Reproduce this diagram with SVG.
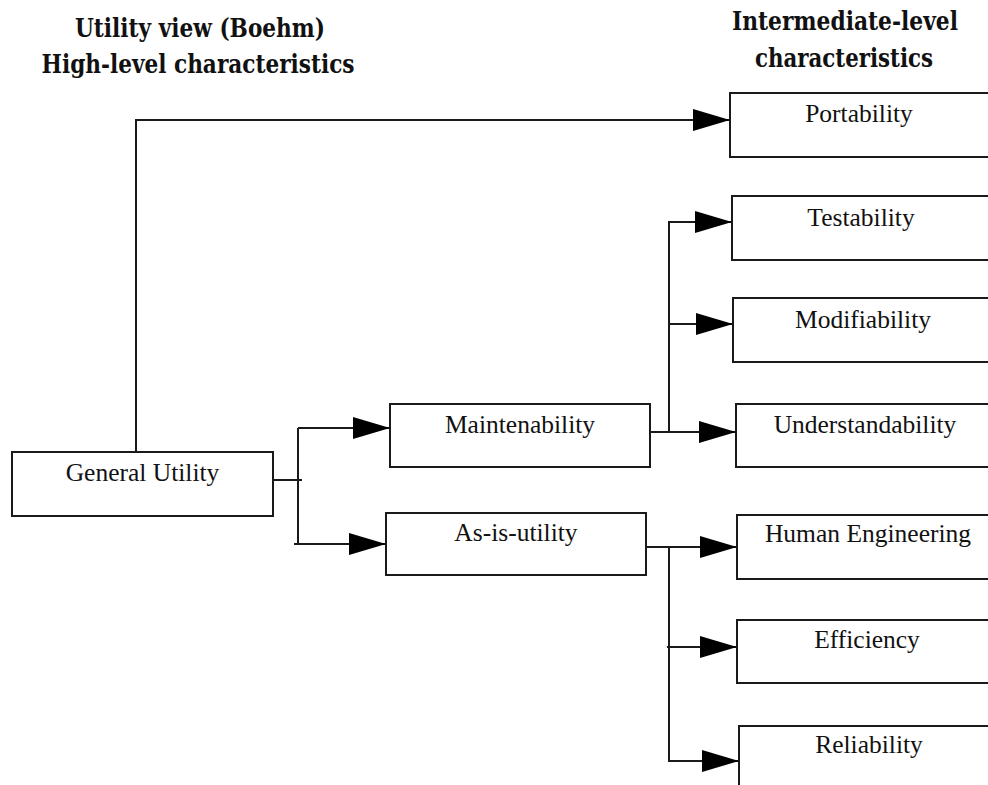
<svg xmlns="http://www.w3.org/2000/svg" width="988" height="785" viewBox="0 0 988 785">
<style>
.box{fill:#fff;stroke:#1a1a1a;stroke-width:2}
.lbl{font-family:"Liberation Serif","Times New Roman",serif;font-size:25.5px;fill:#111;text-anchor:middle}
.ttl{font-family:"DejaVu Serif","Liberation Serif",serif;font-size:26px;font-weight:bold;fill:#111;text-anchor:middle}
.ln{fill:none;stroke:#1a1a1a;stroke-width:2}
</style>
<defs>
<marker id="arr" markerUnits="userSpaceOnUse" markerWidth="38" markerHeight="24" refX="37" refY="12" orient="auto">
<path d="M0,1 L37,12 L0,23 z" fill="#000"/>
</marker>
</defs>
<rect width="988" height="785" fill="#fff"/>
<g id="titles">
<text class="ttl" x="200" y="37" textLength="250" lengthAdjust="spacingAndGlyphs">Utility view (Boehm)</text>
<text class="ttl" x="198" y="73" textLength="313" lengthAdjust="spacingAndGlyphs">High-level characteristics</text>
<text class="ttl" x="845" y="30" textLength="226" lengthAdjust="spacingAndGlyphs">Intermediate-level</text>
<text class="ttl" x="844" y="67" textLength="178" lengthAdjust="spacingAndGlyphs">characteristics</text>
</g>
<g id="connectors">
<polyline class="ln" points="136,452 136,120 730,120" marker-end="url(#arr)"/>
<polyline class="ln" points="273,480 302,480"/>
<polyline class="ln" points="298,428 298,544"/>
<polyline class="ln" points="298,428 390,428" marker-end="url(#arr)"/>
<polyline class="ln" points="294,544 386,544" marker-end="url(#arr)"/>
<polyline class="ln" points="651,432 736,432" marker-end="url(#arr)"/>
<polyline class="ln" points="669,432 669,222 732,222" marker-end="url(#arr)"/>
<polyline class="ln" points="669,324 733,324" marker-end="url(#arr)"/>
<polyline class="ln" points="646,547 737,547" marker-end="url(#arr)"/>
<polyline class="ln" points="669,547 669,761 739,761" marker-end="url(#arr)"/>
<polyline class="ln" points="667,647 737,647" marker-end="url(#arr)"/>
</g>
<g id="general-utility">
<rect class="box" x="12" y="452" width="261" height="64"/>
<text class="lbl" x="142.5" y="481">General Utility</text>
</g>
<g id="maintenability">
<rect class="box" x="390" y="404" width="260" height="63"/>
<text class="lbl" x="520" y="433">Maintenability</text>
</g>
<g id="as-is-utility">
<rect class="box" x="386" y="513" width="260" height="62"/>
<text class="lbl" x="516" y="541">As-is-utility</text>
</g>
<g id="portability">
<rect class="box" x="730" y="93" width="270" height="64"/>
<text class="lbl" x="859" y="122">Portability</text>
</g>
<g id="testability">
<rect class="box" x="732" y="196" width="270" height="64"/>
<text class="lbl" x="861" y="226">Testability</text>
</g>
<g id="modifiability">
<rect class="box" x="733" y="298" width="270" height="64"/>
<text class="lbl" x="863" y="328">Modifiability</text>
</g>
<g id="understandability">
<rect class="box" x="736" y="404" width="270" height="63"/>
<text class="lbl" x="865" y="433">Understandability</text>
</g>
<g id="human-engineering">
<rect class="box" x="737" y="515" width="270" height="64"/>
<text class="lbl" x="868" y="542">Human Engineering</text>
</g>
<g id="efficiency">
<rect class="box" x="737" y="620" width="270" height="63"/>
<text class="lbl" x="867" y="648">Efficiency</text>
</g>
<g id="reliability">
<rect class="box" x="739" y="726" width="270" height="80"/>
<text class="lbl" x="869" y="753">Reliability</text>
</g>
</svg>
